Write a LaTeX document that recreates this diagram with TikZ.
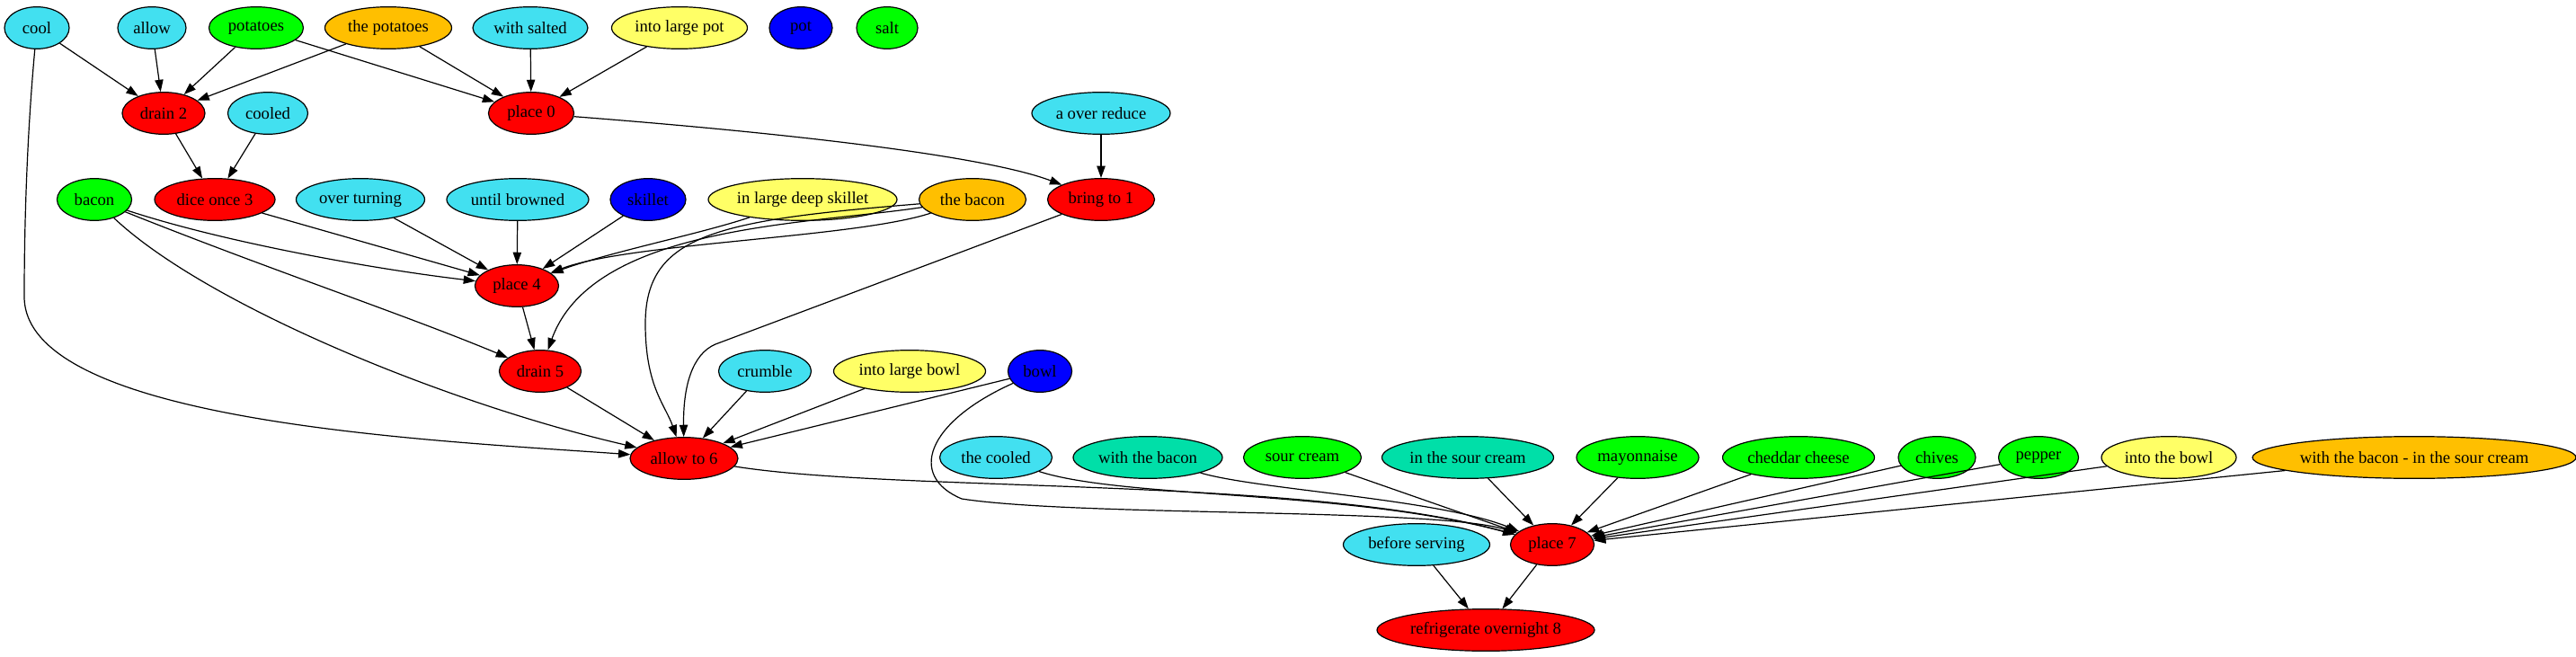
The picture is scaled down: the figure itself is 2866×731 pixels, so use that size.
\documentclass[tikz,border=0pt]{standalone}
\usepackage{fontspec}
\setmainfont{Liberation Serif}
\usetikzlibrary{shapes.geometric,arrows.meta}
\definecolor{cyanc}{HTML}{42E0F0}
\definecolor{tealc}{HTML}{00DFA8}
\definecolor{yellowc}{HTML}{FFFF66}
\definecolor{orangec}{HTML}{FFBF00}
\definecolor{greenc}{HTML}{00FF00}
\definecolor{bluec}{HTML}{0000FF}
\definecolor{redc}{HTML}{FF0000}
\tikzset{
  nd/.style={ellipse, draw=black, line width=0.9pt, inner sep=0pt, minimum height=35pt, font=\fontsize{14}{16}\selectfont, text=black},
  wd/.style={minimum width=#1*0.75pt},
  cy/.style={nd, fill=cyanc}, te/.style={nd, fill=tealc}, ye/.style={nd, fill=yellowc},
  og/.style={nd, fill=orangec}, gr/.style={nd, fill=greenc}, bl/.style={nd, fill=bluec},
  rd/.style={nd, fill=redc},
  arr/.style={-{Triangle[length=10pt,width=7pt]}, line width=0.9pt}
}
\begin{document}
\begin{tikzpicture}[x=0.75pt, y=-0.75pt]
\useasboundingbox (0,0) rectangle (2866,731);
% row 1
\node[cy, wd=72] (cool) at (41,31) {cool};
\node[cy, wd=76] (allow) at (169,31) {allow};
\node[gr, wd=105] (potatoes) at (285,31) {potatoes};
\node[og, wd=141] (thepotatoes) at (432,31) {the potatoes};
\node[cy, wd=128] (withsalted) at (590,31) {with salted};
\node[ye, wd=151] (intolargepot) at (756,31) {into large pot};
\node[bl, wd=70] (pot) at (891,31) {pot};
\node[gr, wd=68] (salt) at (987,31) {salt};
% row 2
\node[rd, wd=92] (drain2) at (182,126) {drain 2};
\node[cy, wd=89] (cooled) at (298,126) {cooled};
\node[rd, wd=95] (place0) at (591,126) {place 0};
\node[cy, wd=154] (aover) at (1225,126) {a over reduce};
% row 3
\node[gr, wd=83] (bacon) at (105,222) {bacon};
\node[rd, wd=134] (dice3) at (239,222) {dice once 3};
\node[cy, wd=143] (overturning) at (401,222) {over turning};
\node[cy, wd=158] (untilbrowned) at (576,222) {until browned};
\node[bl, wd=84] (skillet) at (721,222) {skillet};
\node[ye, wd=210] (ilds) at (893,222) {in large deep skillet};
\node[og, wd=119] (thebacon) at (1082,222) {the bacon};
\node[rd, wd=119] (bring1) at (1225,222) {bring to 1};
% row 4
\node[rd, wd=93] (place4) at (575,318) {place 4};
% row 5
\node[rd, wd=91] (drain5) at (601,413) {drain 5};
\node[cy, wd=103] (crumble) at (851,413) {crumble};
\node[ye, wd=169] (intolargebowl) at (1012,413) {into large bowl};
\node[bl, wd=71] (bowl) at (1157,413) {bowl};
% row 6
\node[rd, wd=120] (allow6) at (761,510) {allow to 6};
\node[cy, wd=125] (thecooled) at (1108,509) {the cooled};
\node[te, wd=166] (withbacon) at (1277,509) {with the bacon};
\node[gr, wd=131] (sourcream) at (1449,509) {sour cream};
\node[te, wd=191] (inthesourcream) at (1633,509) {in the sour cream};
\node[gr, wd=136] (mayonnaise) at (1822,509) {mayonnaise};
\node[gr, wd=169] (cheddar) at (2001,509) {cheddar cheese};
\node[gr, wd=86] (chives) at (2155,509) {chives};
\node[gr, wd=89] (pepper) at (2268,509) {pepper};
\node[ye, wd=150] (intothebowl) at (2413,509) {into the bowl};
\node[og, wd=349] (withbaconsour) at (2686,509) {with the bacon - in the sour cream};
% row 7
\node[cy, wd=163] (beforeserving) at (1576,606) {before serving};
\node[rd, wd=93] (place7) at (1727,606) {place 7};
% row 8
\node[rd, wd=242] (refrig8) at (1653,701) {refrigerate overnight 8};

% edges
\draw[arr] (cool) -- (drain2);
\draw[arr] (allow) -- (drain2);
\draw[arr] (potatoes) -- (drain2);
\draw[arr] (thepotatoes) -- (drain2);
\draw[arr] (potatoes) -- (place0);
\draw[arr] (thepotatoes) -- (place0);
\draw[arr] (withsalted) -- (place0);
\draw[arr] (intolargepot) -- (place0);
\draw[arr] (place0) .. controls (900,150) and (1100,175) .. (bring1);
\draw[arr] (aover) -- (bring1);
\draw[arr] (drain2) -- (dice3);
\draw[arr] (cooled) -- (dice3);
\draw[arr] (dice3) -- (place4);
\draw[arr] (bacon) .. controls (250,270) and (420,300) .. (place4);
\draw[arr] (overturning) -- (place4);
\draw[arr] (untilbrowned) -- (place4);
\draw[arr] (skillet) -- (place4);
\draw[arr] (ilds) .. controls (780,260) and (680,280) .. (place4);
\draw[arr] (thebacon) .. controls (950,265) and (700,270) .. (place4);
\draw[arr] (place4) -- (drain5);
\draw[arr] (bacon) .. controls (300,300) and (450,350) .. (drain5);
\draw[arr] (thebacon) .. controls (900,250) and (660,250) .. (drain5);
\draw[arr] (drain5) -- (allow6);
\draw[arr] (bacon) .. controls (230,340) and (500,450) .. (allow6);
\draw[arr] (cool) .. controls (30,150) and (27,250) .. (27,330) .. controls (27,470) and (480,490) .. (allow6);
\draw[arr] (thebacon) .. controls (800,245) and (718,260) .. (718,360) .. controls (718,430) and (740,450) .. (allow6);
\draw[arr] (bring1) -- (796,383) .. controls (770,394) and (760,430) .. (allow6);
\draw[arr] (crumble) -- (allow6);
\draw[arr] (intolargebowl) -- (allow6);
\draw[arr] (bowl) -- (allow6);
\draw[arr] (allow6) .. controls (1000,548) and (1450,530) .. (place7);
\draw[arr] (bowl) .. controls (1030,470) and (1010,530) .. (1070,555) .. controls (1200,575) and (1600,565) .. (place7);
\draw[arr] (thecooled) .. controls (1250,555) and (1500,545) .. (place7);
\draw[arr] (withbacon) .. controls (1400,545) and (1600,555) .. (place7);
\draw[arr] (sourcream) -- (place7);
\draw[arr] (inthesourcream) -- (place7);
\draw[arr] (mayonnaise) -- (place7);
\draw[arr] (cheddar) -- (place7);
\draw[arr] (chives) -- (place7);
\draw[arr] (pepper) -- (place7);
\draw[arr] (intothebowl) -- (place7);
\draw[arr] (withbaconsour) -- (place7);
\draw[arr] (place7) -- (refrig8);
\draw[arr] (beforeserving) -- (refrig8);
\end{tikzpicture}
\end{document}
